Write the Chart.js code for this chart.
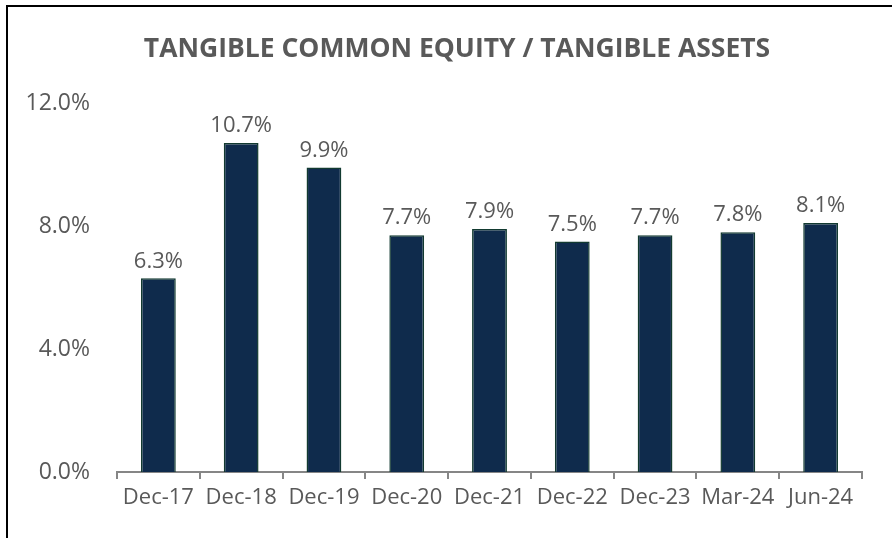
<!DOCTYPE html>
<html>
<head>
<meta charset="utf-8">
<script src="https://cdn.jsdelivr.net/npm/chart.js@4/dist/chart.umd.min.js"></script>
<style>
  html, body { margin: 0; padding: 0; background: #fff; }
  #wrap { position: relative; width: 892px; height: 538px; overflow: hidden; }
  #frame { position: absolute; left: 6px; top: 5px; width: 1000px; height: 1000px;
           border-left: 2px solid #000; border-top: 2px solid #000; box-sizing: border-box; }
  canvas { position: absolute; left: 0; top: 0; }
</style>
</head>
<body>
<div id="wrap">
  <div id="frame"></div>
  <canvas id="tceChart" width="892" height="538"></canvas>
</div>
<script>
// dados do grafico
const titulo = 'TANGIBLE COMMON EQUITY / TANGIBLE ASSETS';
const categorias = ['Dec-17', 'Dec-18', 'Dec-19', 'Dec-20', 'Dec-21', 'Dec-22', 'Dec-23', 'Mar-24', 'Jun-24'];
const valores = [6.3, 10.7, 9.9, 7.7, 7.9, 7.5, 7.7, 7.8, 8.1];
const ticksY = [0, 4, 8, 12];

const fonte = "'Open Sans', 'Liberation Sans', sans-serif";
const cinza = '#595959';

// titulo desenhado a mao (fica um pouco deslocado para a direita no original)
const tituloPlugin = {
    id: 'tituloPlugin',
    afterDraw(chart) {
        const ctx = chart.ctx;
        ctx.save();
        ctx.font = 'bold 26.5px ' + fonte;
        ctx.fillStyle = cinza;
        ctx.textAlign = 'center';
        ctx.textBaseline = 'middle';
        ctx.fillText(titulo, 457, 49);
        ctx.restore();
    }
};

// rotulos em cima das barras
const rotulos = {
    id: 'rotulos',
    afterDatasetsDraw(chart) {
        const ctx = chart.ctx;
        const meta = chart.getDatasetMeta(0);
        ctx.save();
        ctx.font = '22px ' + fonte;
        ctx.fillStyle = cinza;
        ctx.textAlign = 'center';
        ctx.textBaseline = 'bottom';
        meta.data.forEach((bar, i) => {
            ctx.fillText(valores[i].toFixed(1) + '%', bar.x, bar.y - 6);
        });
        ctx.restore();
    }
};

const ctx = document.getElementById('tceChart').getContext('2d');
new Chart(ctx, {
    type: 'bar',
    data: {
        labels: categorias,
        datasets: [{
            data: valores,
            backgroundColor: '#0f2b4c',
            borderColor: '#123a30',
            borderWidth: 1.5,
            categoryPercentage: 1,
            barPercentage: 0.42
        }]
    },
    options: {
        responsive: false,
        animation: false,
        layout: { padding: { left: 0, right: 30, top: 103, bottom: 0 } },
        plugins: {
            legend: { display: false },
            tooltip: { enabled: false },
            title: { display: false }
        },
        scales: {
            x: {
                grid: {
                    display: true,
                    offset: true,
                    drawOnChartArea: false,
                    drawTicks: true,
                    tickLength: 7,
                    tickColor: '#868686',
                    lineWidth: 2
                },
                border: { display: true, color: '#868686', width: 2 },
                ticks: { color: cinza, font: { family: fonte, size: 22 }, padding: 6, maxRotation: 0, autoSkip: false },
                afterFit(s) { s.height = 66; }
            },
            y: {
                min: 0,
                max: 12,
                grid: { display: false, drawTicks: false },
                border: { display: false },
                afterBuildTicks(s) { s.ticks = ticksY.map(v => ({ value: v })); },
                ticks: {
                    color: cinza,
                    font: { family: fonte, size: 23 },
                    padding: 27,
                    callback: v => v.toFixed(1) + '%'
                },
                afterFit(s) { s.width = 117; }
            }
        }
    },
    plugins: [rotulos, tituloPlugin]
});
</script>
</body>
</html>
